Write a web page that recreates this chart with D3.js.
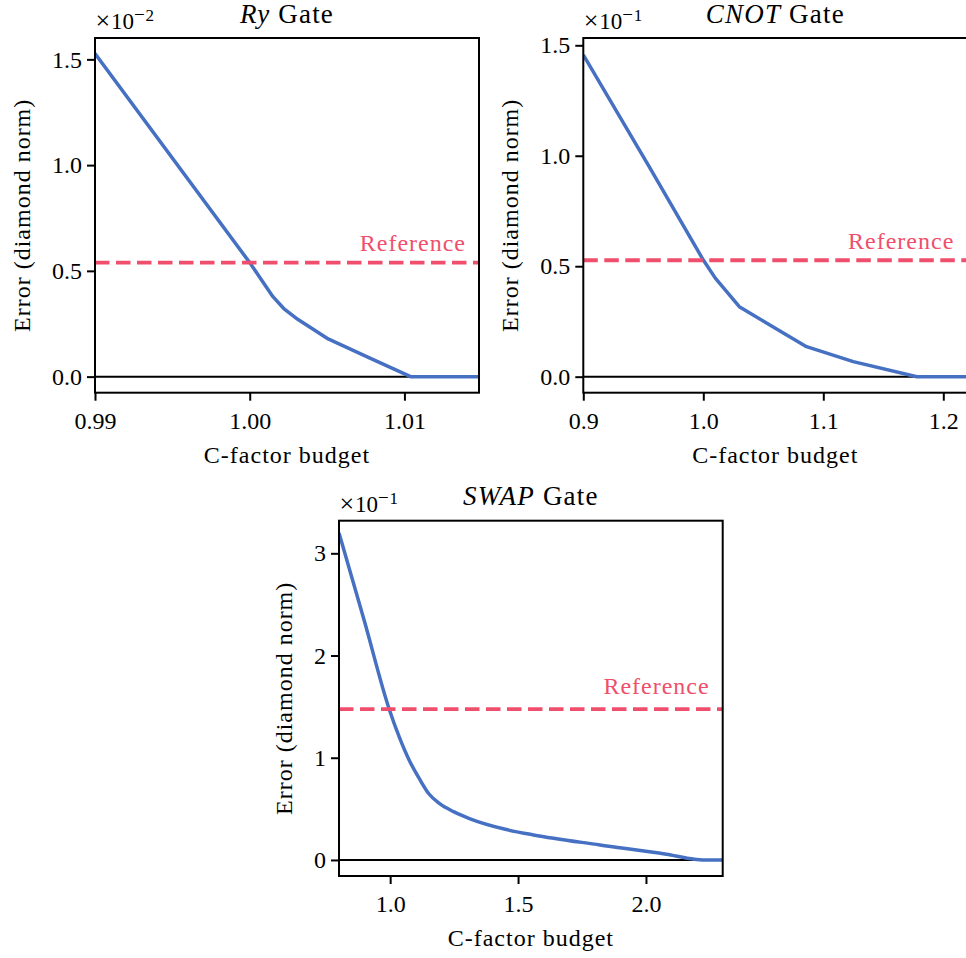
<!DOCTYPE html>
<html>
<head>
<meta charset="utf-8">
<script src="https://cdn.jsdelivr.net/npm/d3@7"></script>
<style>
  html, body { margin: 0; padding: 0; background: #ffffff; }
  svg { display: block; }
  text { font-family: "Liberation Serif", "DejaVu Serif", serif; fill: #000; }
</style>
</head>
<body>
<svg id="chart" width="966" height="958"></svg>
<script>
// ---------------- data ----------------
const ryBudget   = [0.99, 1.0, 1.0015, 1.0022, 1.003, 1.005, 1.0077, 1.0104, 1.0149];
const ryError    = [1.528, 0.539, 0.378, 0.322, 0.276, 0.181, 0.090, 0.0, 0.0];
const ryReference = 0.539;
const ryTicksX = [0.99, 1.00, 1.01];
const ryTicksY = [0.0, 0.5, 1.0, 1.5];

const cnotBudget = [0.9, 0.955, 1.0, 1.01, 1.03, 1.053, 1.086, 1.125, 1.178, 1.22];
const cnotError  = [1.457, 0.950, 0.528, 0.446, 0.317, 0.242, 0.136, 0.068, 0.0, 0.0];
const cnotReference = 0.527;
const cnotTicksX = [0.9, 1.0, 1.1, 1.2];
const cnotTicksY = [0.0, 0.5, 1.0, 1.5];

const swapBudget = [0.8, 0.9, 0.996, 1.035, 1.074, 1.113, 1.152, 1.191, 1.25, 1.31, 1.45, 1.56, 1.82, 2.08, 2.19, 2.22, 2.3];
const swapError  = [3.20, 2.33, 1.477, 1.206, 0.978, 0.800, 0.645, 0.555, 0.470, 0.405, 0.300, 0.245, 0.147, 0.056, 0.007, 0.0, 0.0];
const swapReference = 1.475;
const swapTicksX = [1.0, 1.5, 2.0];
const swapTicksY = [0, 1, 2, 3];

const gateNames = ["Ry", "CNOT", "SWAP"];
const exponents = ["−2", "−1", "−1"];
const xLabel = "C-factor budget";
const yLabel = "Error (diamond norm)";
const refLabel = "Reference";

// ---------------- layout / style ----------------
const BLUE = "#4671c3";
const RED = "#ef4f6c";
const FONT = 24;

const panels = [
  { name: gateNames[0], exp: exponents[0], x: ryBudget, y: ryError, ref: ryReference,
    xt: ryTicksX, yt: ryTicksY, xfmt: d3.format(".2f"), yfmt: d3.format(".1f"),
    xd: [0.99, 1.01482], yd: [-0.076, 1.601], curve: d3.curveLinear,
    box: { left: 95, top: 38, width: 384, height: 354.7 } },
  { name: gateNames[1], exp: exponents[1], x: cnotBudget, y: cnotError, ref: cnotReference,
    xt: cnotTicksX, yt: cnotTicksY, xfmt: d3.format(".1f"), yfmt: d3.format(".1f"),
    xd: [0.9, 1.22], yd: [-0.0725, 1.533], curve: d3.curveLinear,
    box: { left: 583.3, top: 38, width: 384, height: 354.7 } },
  { name: gateNames[2], exp: exponents[2], x: swapBudget, y: swapError, ref: swapReference,
    xt: swapTicksX, yt: swapTicksY, xfmt: d3.format(".1f"), yfmt: d3.format("d"),
    xd: [0.8, 2.3], yd: [-0.157, 3.319], curve: d3.curveMonotoneX,
    box: { left: 339, top: 520.7, width: 383.7, height: 355.3 } }
];

const svg = d3.select("#chart");
svg.append("rect").attr("width", 966).attr("height", 958).attr("fill", "#fff");

panels.forEach((p, i) => {
  const b = p.box;
  const g = svg.append("g").attr("transform", `translate(${b.left},${b.top})`);
  const xs = d3.scaleLinear().domain(p.xd).range([0, b.width]);
  const ys = d3.scaleLinear().domain(p.yd).range([b.height, 0]);

  const clipId = "clip" + i;
  g.append("clipPath").attr("id", clipId)
    .append("rect").attr("x", 0).attr("y", -2).attr("width", b.width).attr("height", b.height + 4);

  const plot = g.append("g").attr("clip-path", `url(#${clipId})`);

  // zero line
  plot.append("line")
    .attr("x1", 0).attr("x2", b.width)
    .attr("y1", ys(0)).attr("y2", ys(0))
    .attr("stroke", "#000").attr("stroke-width", 2);

  // error curve
  const pts = p.x.map((v, k) => [v, p.y[k]]);
  plot.append("path")
    .datum(pts)
    .attr("d", d3.line().x(d => xs(d[0])).y(d => ys(d[1])).curve(p.curve))
    .attr("fill", "none").attr("stroke", BLUE).attr("stroke-width", 3.5)
    .attr("stroke-linejoin", "round").attr("stroke-linecap", "butt");

  // reference line
  plot.append("line")
    .attr("x1", 0).attr("x2", b.width)
    .attr("y1", ys(p.ref)).attr("y2", ys(p.ref))
    .attr("stroke", RED).attr("stroke-width", 3.8)
    .attr("stroke-dasharray", "14.5,6.5");

  g.append("text")
    .attr("x", b.width - 13).attr("y", ys(p.ref * 1.1))
    .attr("text-anchor", "end")
    .style("font-size", FONT + "px").style("letter-spacing", "1px")
    .style("fill", RED)
    .text(refLabel);

  // axes
  const xAxis = d3.axisBottom(xs).tickValues(p.xt).tickFormat(p.xfmt).tickSize(8).tickPadding(11);
  const yAxis = d3.axisLeft(ys).tickValues(p.yt).tickFormat(p.yfmt).tickSize(8).tickPadding(5);

  const gx = g.append("g").attr("transform", `translate(0,${b.height})`).call(xAxis);
  const gy = g.append("g").call(yAxis);
  [gx, gy].forEach(a => {
    a.select(".domain").remove();
    a.selectAll(".tick line").attr("stroke", "#000").attr("stroke-width", 2);
    a.selectAll(".tick text")
      .style("font-family", '"Liberation Serif", serif')
      .style("font-size", FONT + "px").style("fill", "#000");
  });

  // frame
  g.append("rect")
    .attr("x", 0).attr("y", 0).attr("width", b.width).attr("height", b.height)
    .attr("fill", "none").attr("stroke", "#000").attr("stroke-width", 2);

  // title
  const t = g.append("text")
    .attr("x", b.width / 2).attr("y", -15.5)
    .attr("text-anchor", "middle")
    .style("font-size", "27px").style("letter-spacing", "1.2px");
  t.append("tspan").style("font-style", "italic").text(p.name);
  t.append("tspan").text(" Gate");

  // offset text (×10^exp)
  const o = g.append("text")
    .attr("y", -9)
    .style("font-size", "23px");
  o.append("tspan").attr("x", 0.5).style("font-size", "26px").text("×");
  o.append("tspan").attr("x", 16).text("10");
  o.append("tspan").attr("x", 39).attr("dy", -8).style("font-size", "19px").text(p.exp.charAt(0));
  o.append("tspan").attr("x", 50.5).style("font-size", "17px").text(p.exp.slice(1));

  // x label
  g.append("text")
    .attr("x", b.width / 2).attr("y", b.height + 70)
    .attr("text-anchor", "middle")
    .style("font-size", FONT + "px").style("letter-spacing", "1px")
    .text(xLabel);

  // y label
  const ylx = (i === 2) ? -47 : -65;
  g.append("text")
    .attr("transform", `translate(${ylx},${b.height / 2}) rotate(-90)`)
    .attr("text-anchor", "middle")
    .style("font-size", FONT + "px").style("letter-spacing", "1px")
    .text(yLabel);
});
</script>
</body>
</html>
